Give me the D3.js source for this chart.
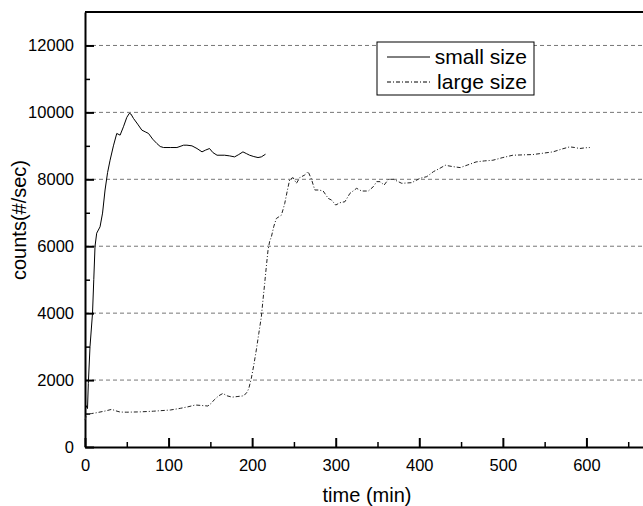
<!DOCTYPE html>
<html>
<head>
<meta charset="utf-8">
<script src="https://cdn.jsdelivr.net/npm/d3@7"></script>
<style>
  html, body { margin: 0; padding: 0; background: #fff; }
  svg { display: block; font-family: "Liberation Sans", Arial, sans-serif; }
</style>
</head>
<body>
<svg id="chart" width="643" height="506"></svg>
<script>
// ============ data ============
const smallTime = [1, 3, 4, 6, 9, 10.5, 12, 14, 18, 21, 24, 27, 30, 34, 38, 42, 46, 50, 53, 55, 58, 63, 68, 72, 76, 81, 86, 90, 94, 102, 110, 118, 122, 128, 134, 140, 144, 149, 153, 158, 167, 173, 179, 184, 189, 193, 197, 202, 207, 211, 216];
const smallCounts = [1250, 1150, 1900, 3000, 4000, 5000, 6000, 6390, 6580, 6990, 7680, 8200, 8570, 9000, 9370, 9320, 9570, 9850, 9970, 9950, 9820, 9650, 9470, 9420, 9370, 9200, 9070, 8980, 8950, 8950, 8950, 9020, 9020, 9000, 8920, 8820, 8870, 8920, 8800, 8720, 8720, 8700, 8670, 8740, 8820, 8770, 8720, 8680, 8650, 8670, 8750];

const largeTime = [0, 2, 8, 14, 24, 32, 37, 42, 50, 58, 66, 74, 82, 90, 102, 108, 114, 123, 132, 140, 147, 151, 155, 160, 165, 170, 176, 183, 190, 194, 196, 199, 202, 205, 208, 211, 213, 215, 217, 219, 221, 223, 226, 229, 232, 235, 237, 239, 242, 245, 249, 253, 257, 263, 267, 271, 275, 280, 285, 291, 295, 300, 305, 311, 317, 325, 331, 339, 345, 349, 353, 358, 363, 369, 379, 391, 401, 409, 417, 424, 431, 440, 449, 458, 468, 478, 488, 500, 512, 524, 536, 548, 560, 570, 580, 586, 592, 598, 604];
const largeCounts = [805, 975, 1000, 1025, 1075, 1125, 1080, 1045, 1040, 1045, 1050, 1060, 1070, 1085, 1105, 1130, 1155, 1200, 1255, 1240, 1225, 1305, 1420, 1530, 1600, 1530, 1490, 1510, 1530, 1640, 1750, 2050, 2450, 2900, 3400, 3890, 4400, 4890, 5400, 5885, 6150, 6280, 6600, 6830, 6880, 6930, 7100, 7280, 7650, 8000, 8050, 7880, 8050, 8130, 8230, 8000, 7680, 7680, 7650, 7430, 7380, 7230, 7300, 7330, 7580, 7730, 7650, 7650, 7780, 7930, 7930, 7830, 8000, 8000, 7880, 7900, 8030, 8080, 8230, 8320, 8420, 8380, 8350, 8430, 8520, 8550, 8570, 8650, 8720, 8730, 8740, 8780, 8820, 8900, 8970, 8950, 8920, 8940, 8950];

const xTicks = [0, 100, 200, 300, 400, 500, 600];
const yTicks = [0, 2000, 4000, 6000, 8000, 10000, 12000];
const seriesNames = ["small size", "large size"];

// ============ layout ============
const plotL = 85, plotR = 670, plotT = 12, plotB = 447;
const svg = d3.select("#chart");

const x = d3.scaleLinear().domain([0, 700]).range([plotL, plotR]);
const y = d3.scaleLinear().domain([0, 13000]).range([plotB, plotT]);

// ============ grid ============
svg.append("g").selectAll("line")
  .data(yTicks.filter(d => d > 0))
  .enter().append("line")
  .attr("x1", plotL).attr("x2", plotR)
  .attr("y1", d => y(d)).attr("y2", d => y(d))
  .attr("stroke", "#777").attr("stroke-width", 1)
  .attr("stroke-dasharray", "4,3");

// ============ axes ============
const xAxis = d3.axisBottom(x).tickValues(xTicks).tickFormat(d3.format("d"))
  .tickSizeInner(-9).tickSizeOuter(0).tickPadding(24);
const gx = svg.append("g").attr("transform", `translate(0,${plotB})`).call(xAxis);
gx.selectAll("text").attr("font-size", 16.5).attr("fill", "#000").attr("dy", "0");
gx.selectAll("line").attr("stroke", "#000").attr("stroke-width", 2);
gx.select(".domain").attr("stroke", "#000").attr("stroke-width", 2);

svg.append("g").attr("transform", `translate(0,${plotB})`)
  .call(d3.axisBottom(x).tickValues(d3.range(50, 700, 100)).tickSize(-5).tickFormat(""))
  .call(g => g.select(".domain").remove())
  .selectAll("line").attr("stroke", "#000").attr("stroke-width", 1.5);

const yAxis = d3.axisLeft(y).tickValues(yTicks).tickFormat(d3.format("d"))
  .tickSizeInner(-9).tickSizeOuter(0).tickPadding(11);
const gy = svg.append("g").attr("transform", `translate(${plotL},0)`).call(yAxis);
gy.selectAll("text").attr("font-size", 16.5).attr("fill", "#000");
gy.selectAll("line").attr("stroke", "#000").attr("stroke-width", 2);
gy.select(".domain").attr("stroke", "#000").attr("stroke-width", 2);

svg.append("g").attr("transform", `translate(${plotL},0)`)
  .call(d3.axisLeft(y).tickValues(d3.range(1000, 13000, 2000)).tickSize(-5).tickFormat(""))
  .call(g => g.select(".domain").remove())
  .selectAll("line").attr("stroke", "#000").attr("stroke-width", 1.5);

// top border
svg.append("line")
  .attr("x1", plotL).attr("x2", plotR)
  .attr("y1", plotT).attr("y2", plotT)
  .attr("stroke", "#000").attr("stroke-width", 2);

// ============ titles ============
svg.append("text")
  .attr("x", 367).attr("y", 502)
  .attr("text-anchor", "middle")
  .attr("font-size", 20)
  .text("time (min)");

svg.append("text")
  .attr("transform", "translate(26,220) rotate(-90)")
  .attr("text-anchor", "middle")
  .attr("font-size", 20)
  .text("counts(#/sec)");

// ============ lines ============
const line = d3.line().x(d => x(d[0])).y(d => y(d[1]));

svg.append("path")
  .datum(d3.zip(smallTime, smallCounts))
  .attr("d", line)
  .attr("fill", "none").attr("stroke", "#000").attr("stroke-width", 1);

svg.append("path")
  .datum(d3.zip(largeTime, largeCounts))
  .attr("d", line)
  .attr("fill", "none").attr("stroke", "#222").attr("stroke-width", 1)
  .attr("stroke-dasharray", "4,2,1,2");

// ============ legend ============
const legend = svg.append("g");
legend.append("rect")
  .attr("x", 377).attr("y", 42).attr("width", 157).attr("height", 53)
  .attr("fill", "#fff").attr("stroke", "#000").attr("stroke-width", 1);

const dashes = [null, "4,2,1,2"];
seriesNames.forEach((name, i) => {
  const ly = 57 + i * 25;
  legend.append("line")
    .attr("x1", 387).attr("x2", 430)
    .attr("y1", ly).attr("y2", ly)
    .attr("stroke", "#000").attr("stroke-width", 1)
    .attr("stroke-dasharray", dashes[i]);
  legend.append("text")
    .attr("x", 527).attr("y", ly + 7)
    .attr("text-anchor", "end")
    .attr("font-size", 21)
    .text(name);
});
</script>
</body>
</html>
